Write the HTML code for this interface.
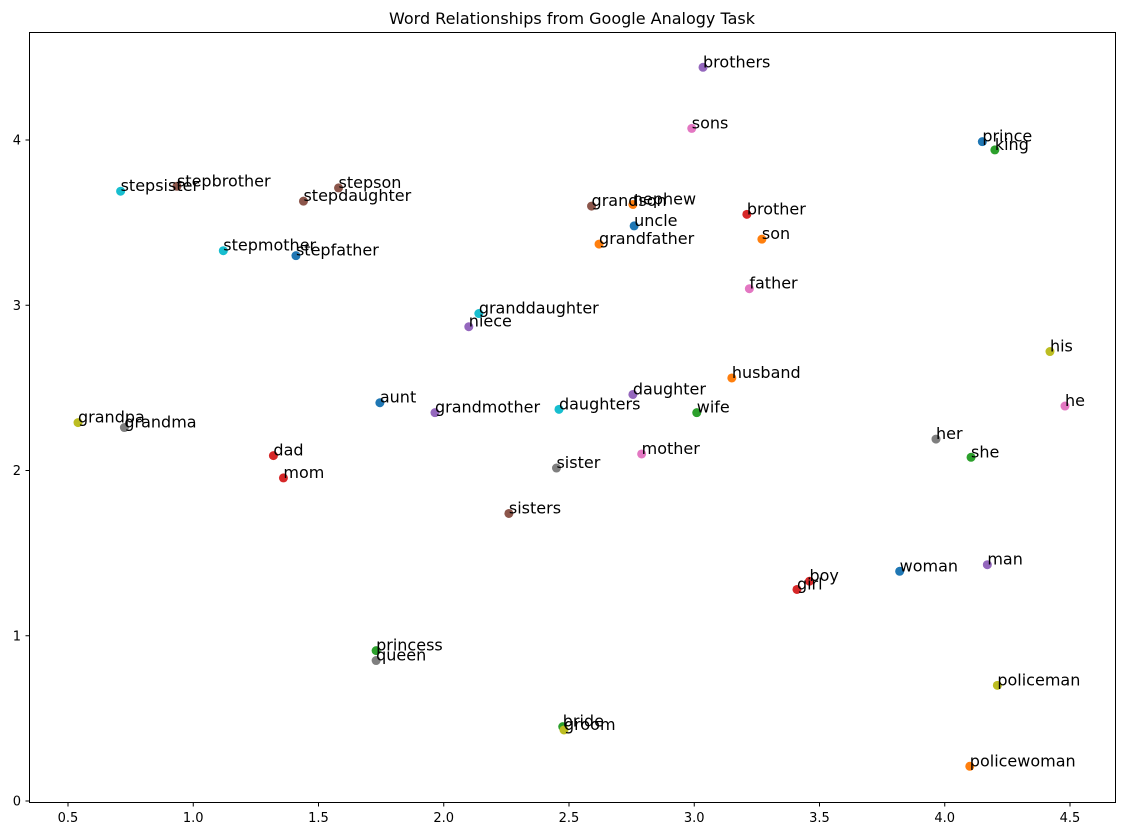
<!DOCTYPE html>
<html><head><meta charset="utf-8"><style>
body{margin:0;background:#fff;}
svg{display:block;font-family:"DejaVu Sans","Liberation Sans",sans-serif;}
</style></head><body>
<svg id="chart" width="1123" height="836">
<rect x="0" y="0" width="1123" height="836" fill="#fff"/>
<text x="572" y="24" text-anchor="middle" font-size="16">Word Relationships from Google Analogy Task</text>
<g id="marks"></g>
<rect x="29.5" y="32.5" width="1086" height="770" fill="none" stroke="#000" stroke-width="1"/>
<g id="axes"></g>
</svg>
<script>
const words = ["brothers","sons","prince","king","stepsister","stepbrother","stepson","stepdaughter","grandson","nephew","uncle","brother","son","grandfather","stepmother","stepfather","father","granddaughter","niece","his","husband","he","daughter","aunt","grandmother","daughters","wife","grandpa","grandma","her","she","dad","mother","sister","mom","sisters","man","woman","boy","girl","princess","queen","policeman","bride","groom","policewoman"];
const xs = [3.035,2.99,4.15,4.20,0.71,0.935,1.58,1.44,2.59,2.755,2.76,3.21,3.27,2.62,1.12,1.41,3.22,2.14,2.10,4.42,3.15,4.48,2.755,1.745,1.965,2.46,3.01,0.54,0.725,3.965,4.105,1.32,2.79,2.45,1.36,2.26,4.17,3.82,3.46,3.41,1.73,1.73,4.21,2.475,2.48,4.10];
const ys = [4.44,4.07,3.99,3.94,3.69,3.72,3.71,3.63,3.60,3.61,3.48,3.55,3.40,3.37,3.33,3.30,3.10,2.95,2.87,2.72,2.56,2.39,2.46,2.41,2.35,2.37,2.35,2.29,2.26,2.19,2.08,2.09,2.10,2.015,1.955,1.74,1.43,1.39,1.33,1.28,0.91,0.85,0.70,0.45,0.43,0.21];
const colors = ["#9467bd","#e377c2","#1f77b4","#2ca02c","#17becf","#8c564b","#8c564b","#8c564b","#8c564b","#ff7f0e","#1f77b4","#d62728","#ff7f0e","#ff7f0e","#17becf","#1f77b4","#e377c2","#17becf","#9467bd","#bcbd22","#ff7f0e","#e377c2","#9467bd","#1f77b4","#9467bd","#17becf","#2ca02c","#bcbd22","#7f7f7f","#7f7f7f","#2ca02c","#d62728","#e377c2","#7f7f7f","#d62728","#8c564b","#9467bd","#1f77b4","#d62728","#d62728","#2ca02c","#7f7f7f","#bcbd22","#2ca02c","#bcbd22","#ff7f0e"];
const xTicks = [0.5,1.0,1.5,2.0,2.5,3.0,3.5,4.0,4.5];
const xTickLabels = ["0.5","1.0","1.5","2.0","2.5","3.0","3.5","4.0","4.5"];
const yTicks = [0,1,2,3,4];
const yTickLabels = ["0","1","2","3","4"];

const NS="http://www.w3.org/2000/svg";
function sx(v){return 68+(v-0.5)*250.5;}
function sy(v){return 801-v*165.25;}
function mk(tag,attrs,parent){const e=document.createElementNS(NS,tag);for(const k in attrs)e.setAttribute(k,attrs[k]);parent.appendChild(e);return e;}
const marks=document.getElementById('marks');
const axes=document.getElementById('axes');
for(let i=0;i<words.length;i++){
  const c=mk('circle',{cx:sx(xs[i]),cy:sy(ys[i]),r:4.5,fill:colors[i]},marks);
  
  
}
for(let i=0;i<words.length;i++){
  const t=mk('text',{x:sx(xs[i]),y:sy(ys[i]),'font-size':16,fill:'#000'},marks);
  t.textContent=words[i];
  
  
}
xTicks.forEach((v,i)=>{
  const l=mk('line',{x1:sx(v),x2:sx(v),y1:802.5,y2:806.5,stroke:'#000'},axes);
  
  
  const t=mk('text',{x:sx(v),y:822,'font-size':13,'text-anchor':'middle'},axes);
  t.textContent=xTickLabels[i];
  
  
});
yTicks.forEach((v,i)=>{
  const l=mk('line',{x1:25.5,x2:29.5,y1:sy(v),y2:sy(v),stroke:'#000'},axes);
  
  
  const t=mk('text',{x:21,y:sy(v)+4.5,'font-size':13,'text-anchor':'end'},axes);
  t.textContent=yTickLabels[i];
  
  
});
</script>
</body></html>
